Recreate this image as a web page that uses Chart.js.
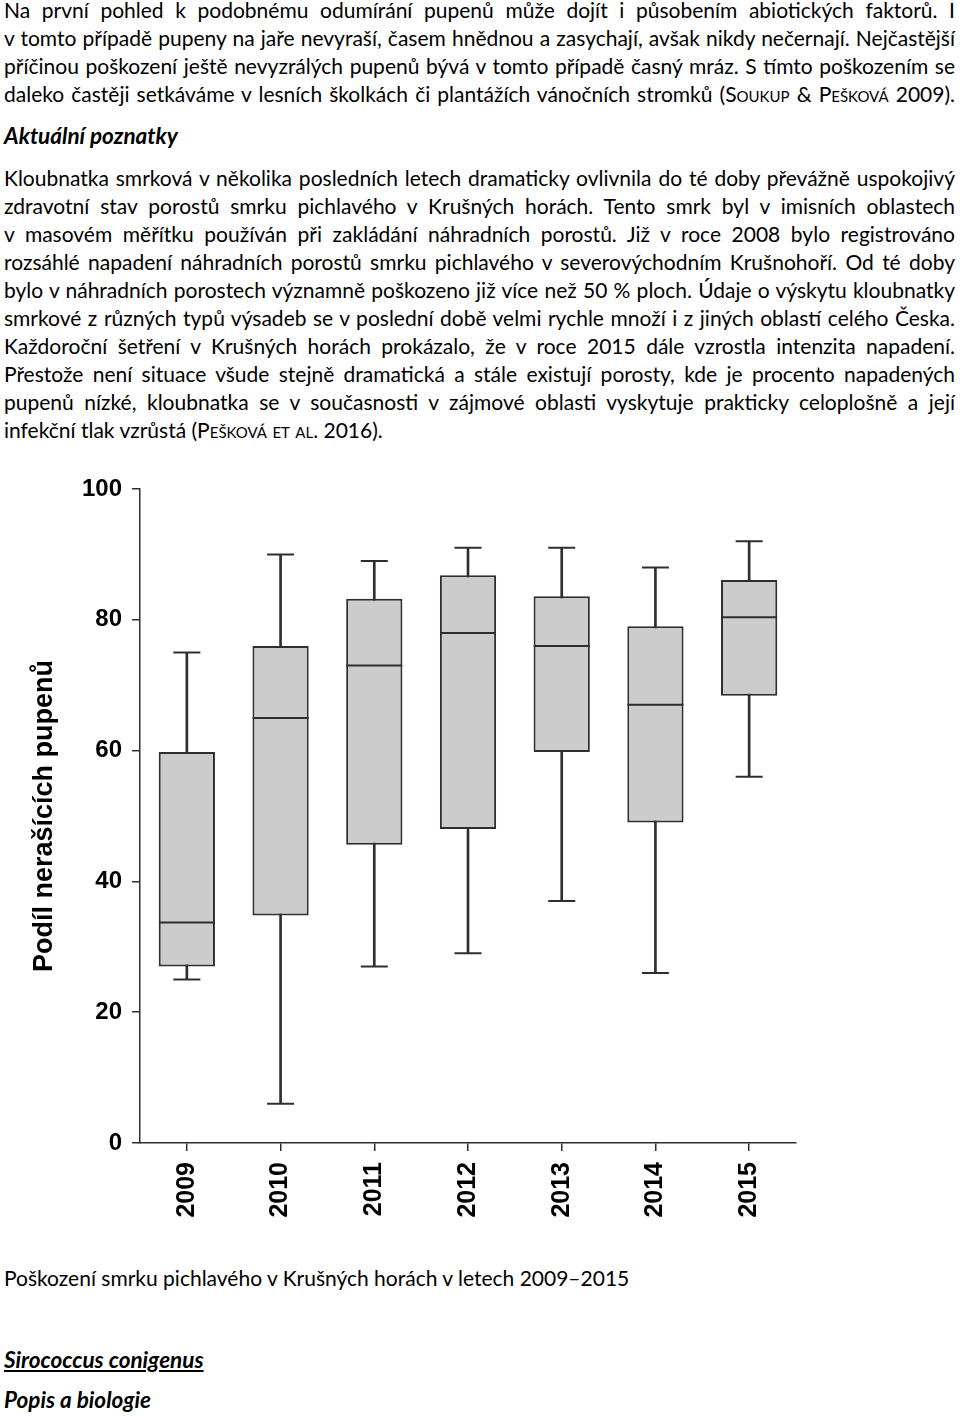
<!DOCTYPE html>
<html lang="cs">
<head>
  <meta charset="UTF-8" />
  <title>Poškození smrku pichlavého v Krušných horách</title>
  <script src="https://cdn.jsdelivr.net/npm/chart.js"></script>
  <style>
    body {
      margin: 0;
      width: 960px;
      height: 1416px;
      position: relative;
      overflow: hidden;
      background: #fff;
      color: #000;
      font-family: Lato, sans-serif;
      font-size: 21px;
    }
    .blk {
      position: absolute;
      left: 4px;
      width: 951px;
      line-height: 28px;
    }
    .j {
      text-align: justify;
      text-align-last: justify;
    }
    .sc { font-variant: small-caps; }
    .h { font-weight: bold; font-style: italic; font-size: 22.5px; }
    .u { text-decoration: underline; }
    #chartBox {
      position: absolute;
      left: 0;
      top: 459px;
      width: 826px;
      height: 779px;
    }
  </style>
</head>
<body>
  <div class="blk" style="top:-4px">
    <div class="j">Na první pohled k podobnému odumírání pupenů může dojít i působením abiotických faktorů. I</div>
    <div class="j">v tomto případě pupeny na jaře nevyraší, časem hnědnou a zasychají, avšak nikdy nečernají. Nejčastější</div>
    <div class="j">příčinou poškození ještě nevyzrálých pupenů bývá v tomto případě časný mráz. S tímto poškozením se</div>
    <div class="j">daleko častěji setkáváme v lesních školkách či plantážích vánočních stromků (<span class="sc">Soukup</span> &amp; <span class="sc">Pešková</span> 2009).</div>
  </div>

  <div class="blk h" style="top:122px">Aktuální poznatky</div>

  <div class="blk" style="top:164px">
    <div class="j">Kloubnatka smrková v několika posledních letech dramaticky ovlivnila do té doby převážně uspokojivý</div>
    <div class="j">zdravotní stav porostů smrku pichlavého v Krušných horách. Tento smrk byl v imisních oblastech</div>
    <div class="j">v masovém měřítku používán při zakládání náhradních porostů. Již v roce 2008 bylo registrováno</div>
    <div class="j">rozsáhlé napadení náhradních porostů smrku pichlavého v severovýchodním Krušnohoří. Od té doby</div>
    <div class="j">bylo v náhradních porostech významně poškozeno již více než 50 % ploch. Údaje o výskytu kloubnatky</div>
    <div class="j">smrkové z různých typů výsadeb se v poslední době velmi rychle množí i z jiných oblastí celého Česka.</div>
    <div class="j">Každoroční šetření v Krušných horách prokázalo, že v roce 2015 dále vzrostla intenzita napadení.</div>
    <div class="j">Přestože není situace všude stejně dramatická a stále existují porosty, kde je procento napadených</div>
    <div class="j">pupenů nízké, kloubnatka se v současnosti v zájmové oblasti vyskytuje prakticky celoplošně a její</div>
    <div>infekční tlak vzrůstá (<span class="sc">Pešková et al</span>. 2016).</div>
  </div>

  <div id="chartBox">
    <canvas id="boxChart"></canvas>
  </div>

  <div class="blk" style="top:1264px">Poškození smrku pichlavého v Krušných horách v letech 2009–2015</div>
  <div class="blk h" style="top:1346px"><span class="u">Sirococcus conigenus</span></div>
  <div class="blk h" style="top:1386px">Popis a biologie</div>

  <script>
    // hodnoty (podíl nerašících pupenů, %)
    const years = ['2009', '2010', '2011', '2012', '2013', '2014', '2015'];
    const minVals = [25, 6, 27, 29, 37, 26, 56];
    const q1Vals = [27, 34.8, 45.6, 48, 59.8, 49, 68.4];
    const medVals = [33.7, 65, 73, 78, 76, 67, 80.4];
    const q3Vals = [59.8, 76, 83.2, 86.8, 83.6, 79, 86.1];
    const maxVals = [75, 90, 89, 91, 91, 88, 92];

    const boxRanges = years.map((y, i) => [q1Vals[i], q3Vals[i]]);
    const whiskerRanges = years.map((y, i) => [minVals[i], maxVals[i]]);

    const ink = '#2e2e2e';
    const tickFont = { family: 'Liberation Sans', weight: 'bold', size: 24 };

    new Chart(document.getElementById('boxChart').getContext('2d'), {
      type: 'bar',
      data: {
        labels: years,
        datasets: [
          {
            label: 'medián',
            type: 'line',
            data: medVals,
            showLine: false,
            pointStyle: 'line',
            pointRadius: 28,
            pointBorderWidth: 2,
            borderColor: ink,
            order: 0
          },
          {
            label: 'maximum',
            type: 'line',
            data: maxVals,
            showLine: false,
            pointStyle: 'line',
            pointRadius: 13.5,
            pointBorderWidth: 2,
            borderColor: ink,
            order: 1
          },
          {
            label: 'minimum',
            type: 'line',
            data: minVals,
            showLine: false,
            pointStyle: 'line',
            pointRadius: 13.5,
            pointBorderWidth: 2,
            borderColor: ink,
            order: 1
          },
          {
            label: 'kvartily',
            data: boxRanges,
            backgroundColor: '#cccccc',
            borderColor: ink,
            borderWidth: 2,
            borderSkipped: false,
            barPercentage: 0.6,
            categoryPercentage: 1,
            grouped: false,
            order: 2
          },
          {
            label: 'rozpětí',
            data: whiskerRanges,
            backgroundColor: ink,
            barThickness: 2,
            grouped: false,
            order: 3
          }
        ]
      },
      options: {
        responsive: true,
        maintainAspectRatio: false,
        animation: false,
        events: [],
        layout: { padding: { top: 11, right: 16, bottom: 0, left: 0 } },
        plugins: {
          legend: { display: false },
          tooltip: { enabled: false }
        },
        scales: {
          x: {
            grid: { drawOnChartArea: false, drawTicks: true, tickLength: 8, offset: false, color: ink, lineWidth: 1.5 },
            border: { display: true, color: ink, width: 1.5 },
            ticks: { minRotation: 90, maxRotation: 90, padding: 11, color: '#000', font: { family: 'Liberation Sans', weight: 'bold', size: 25 } },
            afterFit(scale) { scale.height = 95; }
          },
          y: {
            min: 0,
            max: 100,
            grid: { drawOnChartArea: false, drawTicks: true, tickLength: 8, color: ink, lineWidth: 1.5 },
            border: { display: true, color: ink, width: 1.5 },
            ticks: { stepSize: 20, padding: 10, color: '#000', font: tickFont },
            title: {
              display: true,
              text: 'Podíl nerašících pupenů',
              color: '#000',
              font: { family: 'Liberation Sans', weight: 'bold', size: 27 },
              padding: { top: 28, bottom: 0 }
            },
            afterFit(scale) { scale.width = 140; }
          }
        }
      }
    });
  </script>
</body>
</html>
